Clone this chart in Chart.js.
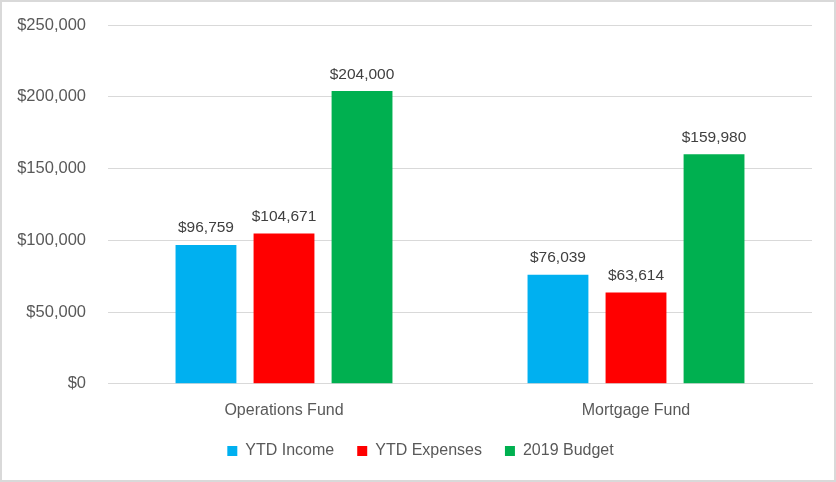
<!DOCTYPE html>
<html>
<head>
<meta charset="utf-8">
<script src="https://cdn.jsdelivr.net/npm/chart.js@4"></script>
<style>
  html, body { margin: 0; padding: 0; background: #fff; }
  #wrap {
    width: 832px; height: 478px;
    border: 2px solid #d9d9d9;
    position: relative;
  }
</style>
</head>
<body>
<div id="wrap"><canvas id="chart"></canvas></div>
<script>
  // data
  const categories = ["Operations Fund", "Mortgage Fund"];
  const seriesNames = ["YTD Income", "YTD Expenses", "2019 Budget"];
  const ytdIncome = [96759, 76039];
  const ytdExpenses = [104671, 63614];
  const budget2019 = [204000, 159980];
  const yTicks = [0, 50000, 100000, 150000, 200000, 250000];

  const colors = ["#00B0F0", "#FF0000", "#00B050"];
  const textColor = "#595959";
  const font = "'Liberation Sans', Arial, sans-serif";

  const money = (v) => "$" + v.toLocaleString("en-US");

  // labels above each bar
  const barLabels = {
    id: "barLabels",
    afterDatasetsDraw(chart) {
      const c = chart.ctx;
      c.save();
      c.font = "15.5px " + font;
      c.fillStyle = "#404040";
      c.textAlign = "center";
      c.textBaseline = "bottom";
      chart.data.datasets.forEach((ds, i) => {
        chart.getDatasetMeta(i).data.forEach((bar, j) => {
          c.fillText(money(ds.data[j]), bar.x, bar.y - 9);
        });
      });
      c.restore();
    },
  };

  // legend sits a little right of centre in the original
  const legendShift = {
    id: "legendShift",
    afterLayout(chart) {
      if (!chart.legend) return;
      chart.legend.left += 7;
      chart.legend.right += 7;
    },
  };

  new Chart(document.getElementById("chart"), {
    type: "bar",
    data: {
      labels: categories,
      datasets: [
        { label: seriesNames[0], data: ytdIncome, backgroundColor: colors[0] },
        { label: seriesNames[1], data: ytdExpenses, backgroundColor: colors[1] },
        { label: seriesNames[2], data: budget2019, backgroundColor: colors[2] },
      ],
    },
    options: {
      responsive: true,
      maintainAspectRatio: false,
      animation: false,
      categoryPercentage: 0.665,
      barPercentage: 0.78,
      layout: { padding: { top: 23, right: 22, bottom: 11, left: 13 } },
      scales: {
        x: {
          grid: { display: false },
          border: { color: "#d9d9d9", width: 1 },
          ticks: { color: textColor, font: { family: font, size: 16 }, padding: 9 },
          // pull the legend a bit closer to the category labels
          afterFit: (scale) => {
            scale.height -= 9;
          },
        },
        y: {
          min: 0,
          max: 250000,
          afterBuildTicks: (axis) => {
            axis.ticks = yTicks.map((v) => ({ value: v }));
          },
          // fixed axis width, and keep the tick padding out of the top/bottom
          afterFit: (scale) => {
            scale.width = 93;
            scale.paddingTop = 0;
            scale.paddingBottom = 0;
          },
          grid: { color: "#d9d9d9", lineWidth: 1, drawTicks: false },
          border: { display: false },
          ticks: {
            color: textColor,
            font: { family: font, size: 16.5 },
            padding: 22,
            callback: (v) => money(v),
          },
        },
      },
      plugins: {
        legend: {
          position: "bottom",
          labels: {
            color: textColor,
            font: { family: font, size: 16 },
            boxWidth: 10,
            boxHeight: 10,
            padding: 23,
          },
        },
        tooltip: { enabled: false },
      },
    },
    plugins: [barLabels, legendShift],
  });
</script>
</body>
</html>
